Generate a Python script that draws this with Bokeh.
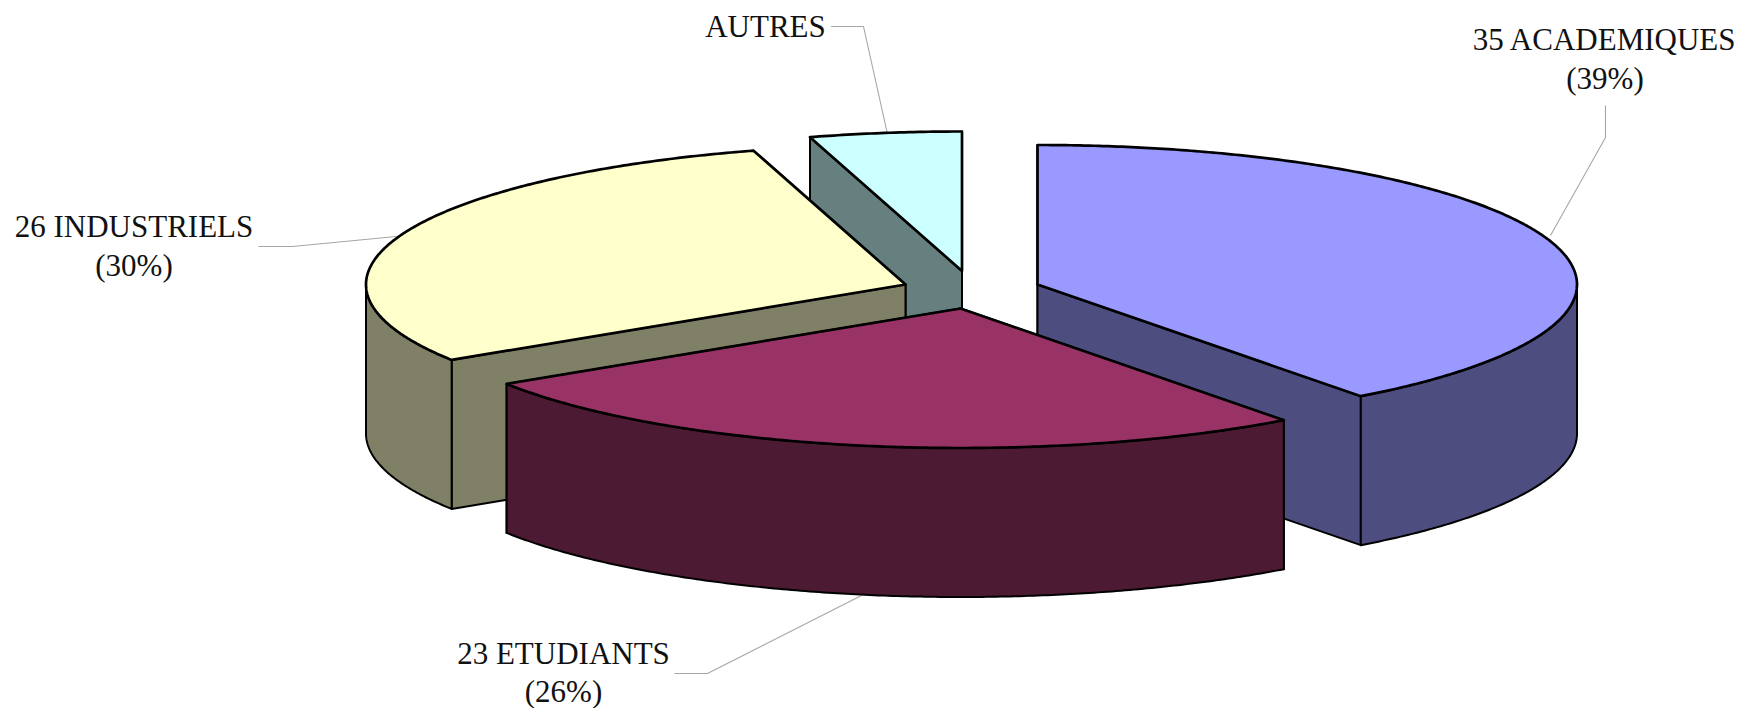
import math
from bokeh.plotting import figure
from bokeh.models import ColumnDataSource, Range1d
from bokeh.core.properties import value
from bokeh.embed import file_html
from bokeh.resources import INLINE

# ---- data ----
categories = ["ACADEMIQUES", "ETUDIANTS", "INDUSTRIELS", "AUTRES"]
counts = [35, 23, 26, 4]  # AUTRES has no printed count: estimated from its slice
percents = ["39%", "26%", "30%", None]

# ---- styles ----
top_colors = ["#9999FF", "#993366", "#FFFFCC", "#CCFFFF"]
side_colors = ["#4D4D80", "#4D1A33", "#808066", "#668080"]

# ---- pie geometry (page pixels) ----
RX, RY, DEPTH = 539.5, 139.5, 149
centers = {"ACADEMIQUES": (1037, 284), "ETUDIANTS": (960, 308),
           "INDUSTRIELS": (905, 284), "AUTRES": (961.5, 270.5)}
draw_order = ["AUTRES", "INDUSTRIELS", "ACADEMIQUES", "ETUDIANTS"]


def rim(center, deg):
    a = math.radians(deg)
    return center[0] + RX * math.sin(a), center[1] - RY * math.cos(a)


def arc(center, a1, a2):
    n = max(2, int(abs(a2 - a1) * 2))
    return [rim(center, a1 + (a2 - a1) * i / n) for i in range(n + 1)]


total = sum(counts)
spans, acc = {}, 0
for c, v in zip(categories, counts):
    spans[c] = (acc / total * 360, (acc + v) / total * 360)
    acc += v

xs, ys, fills, widths = [], [], [], []


def add(points, fill, width):
    xs.append([q[0] for q in points])
    ys.append([q[1] for q in points])
    fills.append(fill)
    widths.append(width)


for name in draw_order:
    i = categories.index(name)
    c = centers[name]
    a1, a2 = spans[name]
    # cut faces, the one further back first
    for ang in sorted((a1, a2), key=lambda d: rim(c, d)[1]):
        r = rim(c, ang)
        add([c, r, (r[0], r[1] + DEPTH), (c[0], c[1] + DEPTH)], side_colors[i], 2.0)
    # outer wall, front half of the ellipse only
    w1, w2 = max(a1, 90), min(a2, 270)
    if w2 > w1:
        upper = arc(c, w1, w2)
        lower = [(q[0], q[1] + DEPTH) for q in reversed(upper)]
        add(upper + lower, side_colors[i], 2.0)
    # top
    add([c] + arc(c, a1, a2), top_colors[i], 2.7)

p = figure(width=1742, height=708, output_backend="svg", toolbar_location=None,
           x_range=Range1d(0, 1742), y_range=Range1d(708, 0),
           min_border=0, outline_line_color=None)
p.axis.visible = False
p.grid.visible = False
p.background_fill_color = "#FFFFFF"

# leader lines (drawn first, under the pie)
leaders = [
    ([830.5, 863, 886.5], [26, 26, 131.5]),
    ([1605, 1605, 1550], [105, 137, 235]),
    ([258, 292, 395.5], [246, 246, 236]),
    ([674, 707, 861], [673, 673, 595]),
]
p.multi_line([l[0] for l in leaders], [l[1] for l in leaders],
             line_color="#A6A6A6", line_width=1.1)

p.patches("xs", "ys", source=ColumnDataSource(dict(xs=xs, ys=ys, fill=fills, w=widths)),
          fill_color="fill", line_color="#000000", line_width="w", line_join="round")

# labels: centre x, first baseline, step to the second line
label_pos = {"ACADEMIQUES": (1604.5, 39, 39), "ETUDIANTS": (563, 653, 38),
             "INDUSTRIELS": (133.5, 226, 39), "AUTRES": (765, 26, 0)}
tx, ty, tt = [], [], []
for c, v, pc in zip(categories, counts, percents):
    x, y, step = label_pos[c]
    tx.append(x)
    ty.append(y)
    tt.append(c if pc is None else f"{v} {c}")
    if pc is not None:
        tx.append(x)
        ty.append(y + step)
        tt.append(f"({pc})")

p.text(tx, ty, text=tt, text_font=value("Liberation Serif"), text_font_size="31px",
       text_align="center", text_baseline="alphabetic", text_color="#111111")

open("out.html", "w").write(file_html(p, INLINE))
